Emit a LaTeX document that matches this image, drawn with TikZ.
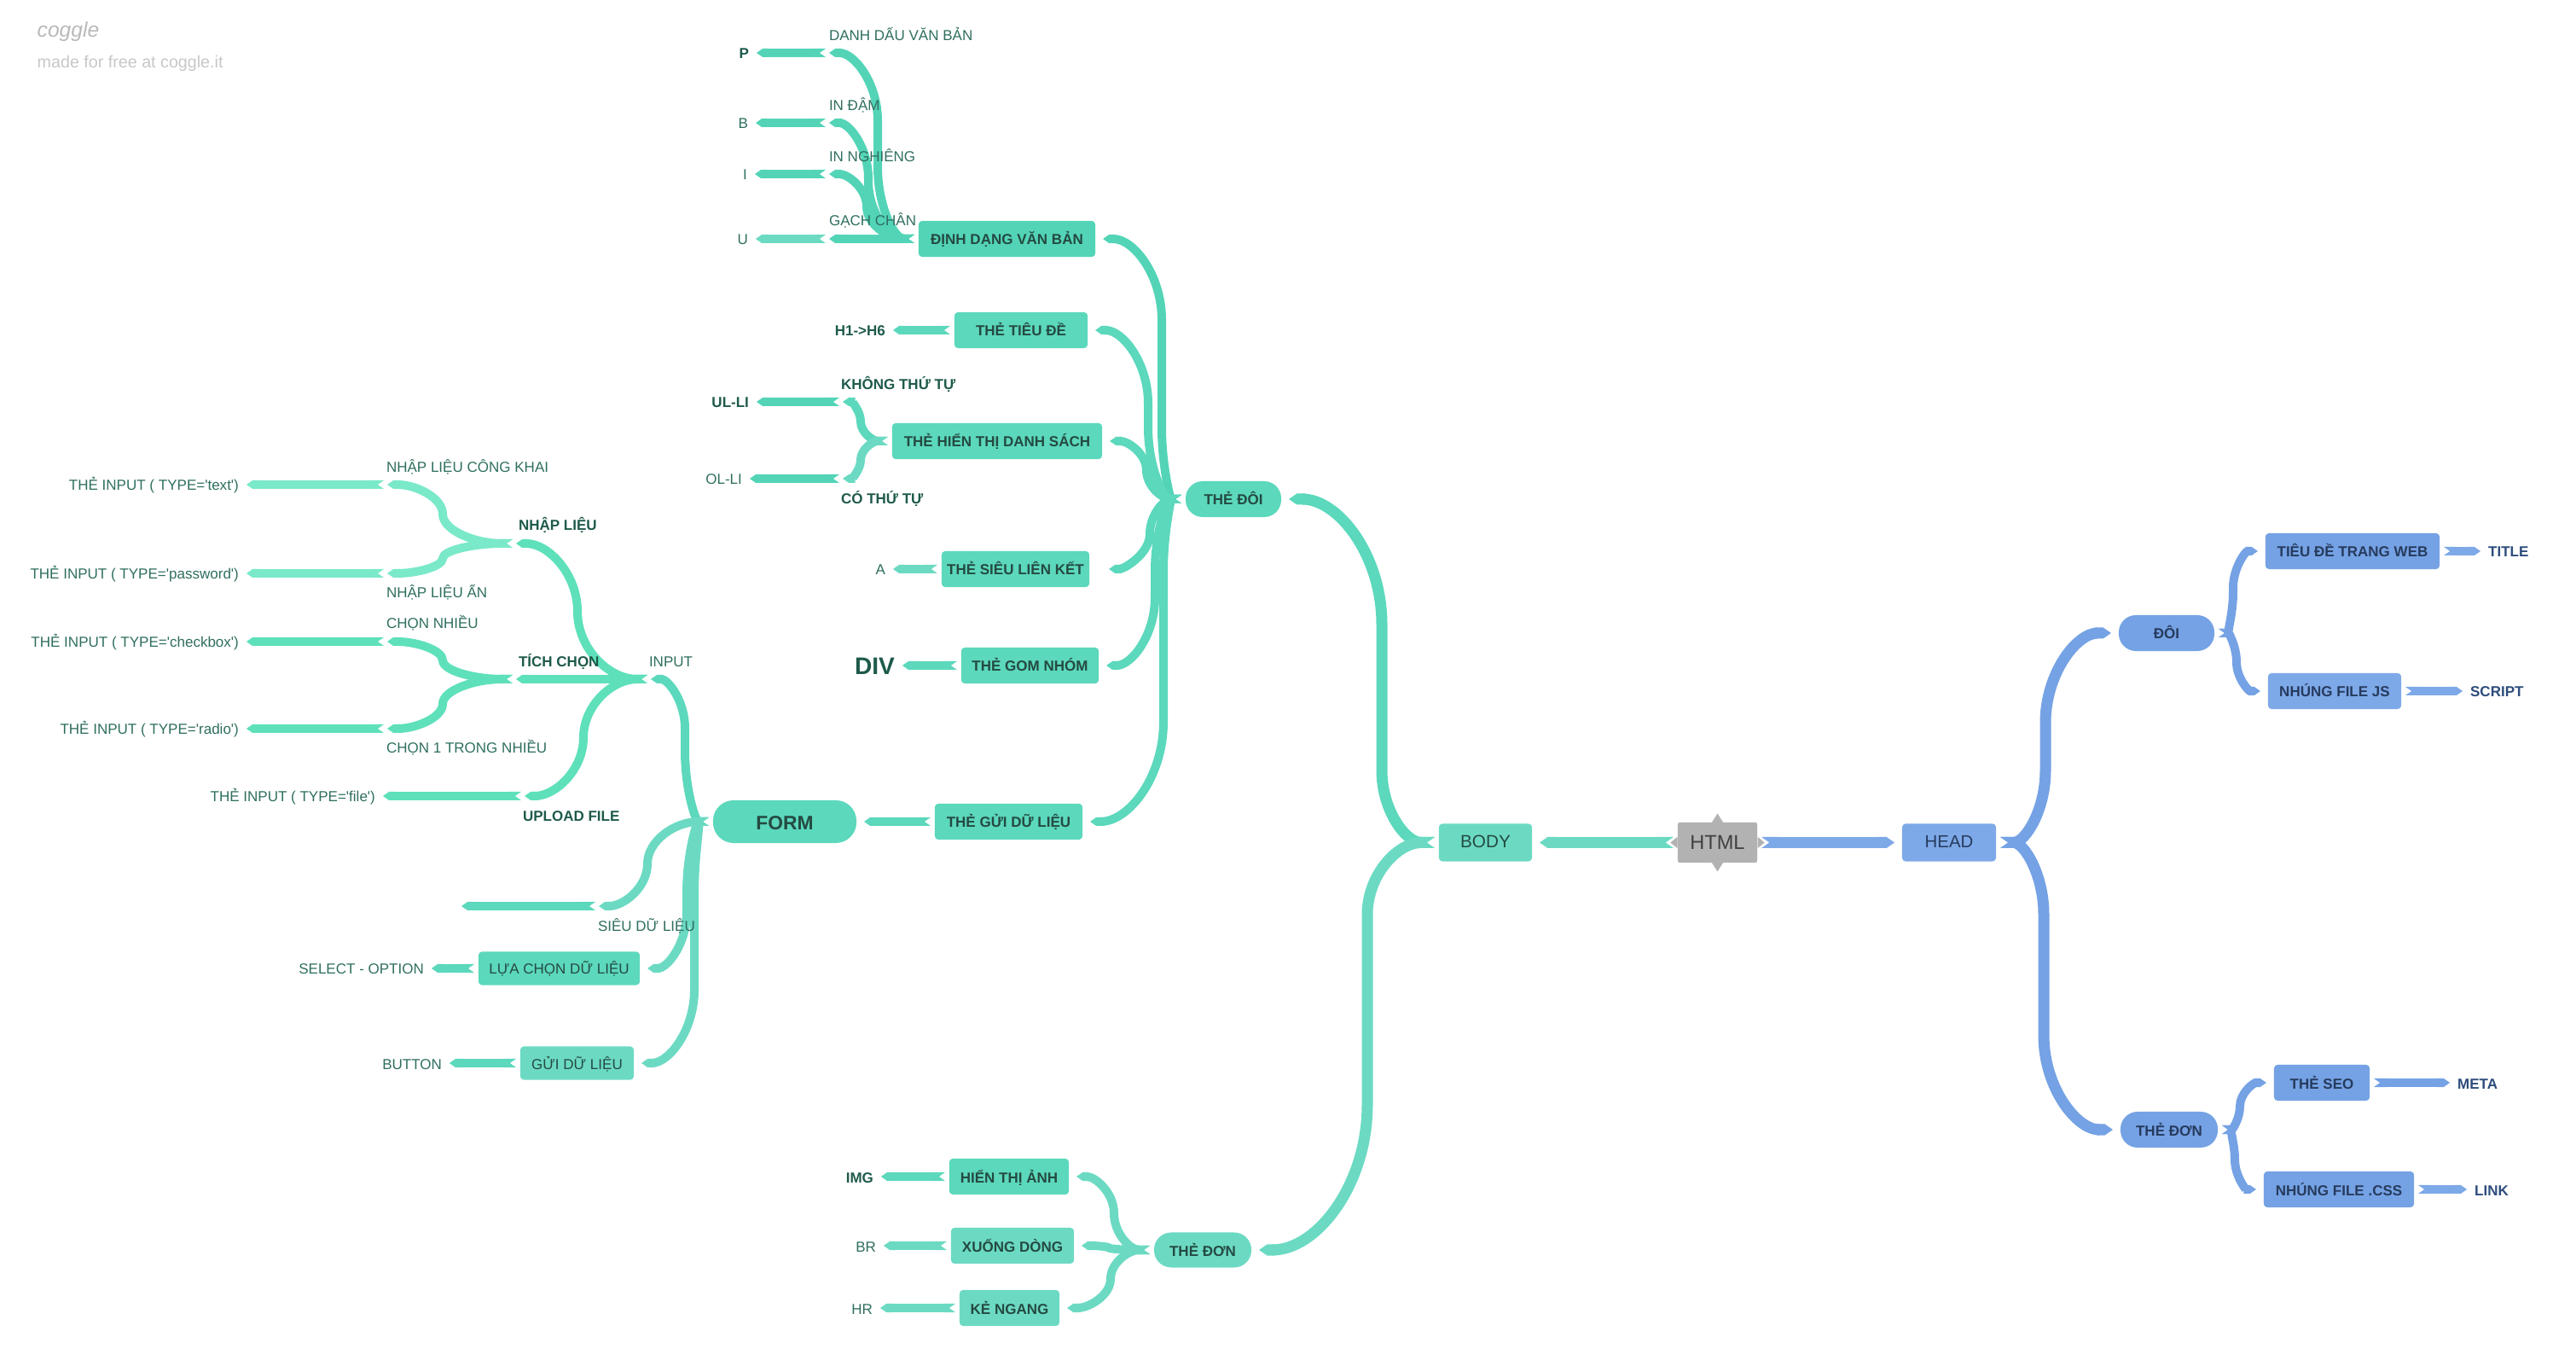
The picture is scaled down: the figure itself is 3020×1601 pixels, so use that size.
\documentclass[tikz,border=0pt]{standalone}
\usepackage{fontspec}
\setmainfont{Liberation Sans}[Ligatures=TeXOff]
\usetikzlibrary{arrows.meta, positioning, calc, backgrounds}
\newcommand{\smallfont}{\fontsize{4.84pt}{6pt}\selectfont}
\definecolor{bodyteal}{HTML}{5CD8BC}
\definecolor{paleteal}{HTML}{6CDAC3}
\definecolor{darkteal}{HTML}{53D4B7}
\definecolor{mintone}{HTML}{7AE9C9}
\definecolor{minttwo}{HTML}{5EE0BB}
\definecolor{headblue}{HTML}{75A2E4}
\definecolor{paleblue}{HTML}{7EA9E8}
\definecolor{htmlgray}{HTML}{B2B2B2}
\definecolor{boxink}{HTML}{244A42}
\definecolor{leafink}{HTML}{2F6E5F}
\definecolor{boldink}{HTML}{1E5A4B}
\definecolor{blueink}{HTML}{263B5E}
\definecolor{blueleaf}{HTML}{2D4C7C}

\begin{document}
\begin{tikzpicture}[
    x=0.01cm, y=-0.01cm,
    tag/.style={rounded corners=0.04cm, inner sep=0pt, outer sep=0.05cm, minimum height=0.42cm, fill=bodyteal, font=\smallfont\bfseries, text=boxink, text height=0.14cm, text depth=0pt},
    plain/.style={tag, font=\smallfont},
    pill/.style={tag, rounded corners=0.2cm},
    bluetag/.style={tag, fill=headblue, text=blueink},
    bluepill/.style={pill, fill=headblue, text=blueink},
    leaf/.style={inner sep=0pt, outer sep=0.05cm, font=\smallfont, text=leafink, text height=0.14cm, text depth=0pt},
    boldleaf/.style={leaf, font=\smallfont\bfseries, text=boldink},
    blueleaf/.style={boldleaf, text=blueleaf},
    note/.style={leaf, outer sep=0pt, anchor=west},
    boldnote/.style={boldleaf, outer sep=0pt, anchor=west},
    link/.style={line width=0.1cm, arrows={Triangle Cap[reversed, cap angle=70]}-{Triangle Cap[cap angle=70]}, shorten >=0.04cm},
    biglink/.style={link, line width=0.13cm},
    branch/.style={to path={
        let \p1=(\tikztostart), \p2=(\tikztotarget), \p3=(#1,0),
            \n1={min(24,abs(\y2-\y1)/2)*(\y2>\y1?1:-1)},
            \n2={min(1.3*abs(\x3-\x2),abs(\y2-\y1)/2)*(\y2>\y1?1:-1)}
        in .. controls ({\x1+0.55*(\x3-\x1)},\y1) and (\x3,{\y1+0.45*\n1}) .. (\x3,{\y1+\n1})
        -- (\x3,{\y2-\n2}) .. controls (\x3,{\y2-0.45*\n2}) and ({\x2+0.55*(\x3-\x2)},\y2) .. (\tikztotarget)}}
]
    \useasboundingbox (0,0) rectangle (3020,1601);

    % centre
    \node[tag, minimum width=0.93cm, minimum height=0.47cm, fill=htmlgray, rounded corners=0.02cm, font=\fontsize{6.7pt}{8pt}\selectfont, text=black!75, text height=0.15cm] (html) at (2013.5,987.5) {HTML};
    \node[tag, minimum width=1.09cm, minimum height=0.44cm, fill=paleteal, font=\fontsize{5.9pt}{7pt}\selectfont, text height=0.13cm] (body) at (1741.5,987.5) {BODY};
    \node[bluetag, minimum width=1.10cm, minimum height=0.44cm, fill=paleblue, font=\fontsize{5.8pt}{7pt}\selectfont, text height=0.13cm] (head) at (2285,987.5) {HEAD};

    % head side
    \node[bluepill, minimum width=1.12cm] (doi) at (2540,742) {ĐÔI};
    \node[bluepill, minimum width=1.14cm] (dontag) at (2543,1324) {THẺ ĐƠN};
    \node[bluetag, minimum width=2.04cm] (webtitle) at (2758,646) {TIÊU ĐỀ TRANG WEB};
    \node[bluetag, minimum width=1.56cm, fill=paleblue] (jsfile) at (2737,810) {NHÚNG FILE JS};
    \node[bluetag, minimum width=1.12cm] (seo) at (2722,1269) {THẺ SEO};
    \node[bluetag, minimum width=1.76cm] (cssfile) at (2742,1394) {NHÚNG FILE .CSS};
    \node[blueleaf, right=0.47cm of webtitle] (title) {TITLE};
    \node[blueleaf, right=0.71cm of jsfile] (script) {SCRIPT};
    \node[blueleaf, right=0.93cm of seo] (meta) {META};
    \node[blueleaf, right=0.61cm of cssfile] (linktag) {LINK};

    % body side, paired tags
    \node[pill, minimum width=1.12cm] (thedoi) at (1446,585) {THẺ ĐÔI};
    \node[tag, minimum width=2.07cm, fill=darkteal] (dinhdang) at (1180.5,280) {ĐỊNH DẠNG VĂN BẢN};
    \node[tag, minimum width=1.56cm] (tieude) at (1197,387) {THẺ TIÊU ĐỀ};
    \node[tag, minimum width=2.46cm] (danhsach) at (1169,517) {THẺ HIỂN THỊ DANH SÁCH};
    \node[tag, minimum width=1.73cm] (sieulk) at (1190.5,667) {THẺ SIÊU LIÊN KẾT};
    \node[tag, minimum width=1.61cm] (gomnhom) at (1207.5,780) {THẺ GOM NHÓM};
    \node[tag, minimum width=1.73cm] (guidl) at (1182.5,963) {THẺ GỬI DỮ LIỆU};
    \node[boldleaf, left=0.71cm of tieude] (hsix) {H1->H6};
    \node[leaf, left=0.56cm of sieulk] (atag) {A};
    \node[boldleaf, left=0.68cm of gomnhom, font=\fontsize{8pt}{9pt}\selectfont\bfseries, text height=0.22cm] (divtag) {DIV};

    % text marks
    \coordinate (pjoin) at (968,62);
    \coordinate (bjoin) at (968,144);
    \coordinate (ijoin) at (968,204);
    \coordinate (ujoin) at (968,280);
    \node[boldleaf, left=0.85cm of pjoin] (ptag) {P};
    \node[leaf, left=0.86cm of bjoin] (btag) {B};
    \node[leaf, left=0.87cm of ijoin] (itag) {I};
    \node[leaf, left=0.86cm of ujoin] (utag) {U};
    \node[note] at (972,41) {DANH DẤU VĂN BẢN};
    \node[note] at (972,123) {IN ĐẬM};
    \node[note] at (972,183) {IN NGHIÊNG};
    \node[note] at (972,258) {GẠCH CHÂN};

    % lists
    \coordinate (uljoin) at (984,471);
    \coordinate (oljoin) at (984,561);
    \node[boldleaf, left=1.01cm of uljoin] (ultag) {UL-LI};
    \node[leaf, left=1.09cm of oljoin] (oltag) {OL-LI};
    \node[boldnote] at (986,450) {KHÔNG THỨ TỰ};
    \node[boldnote] at (986,584) {CÓ THỨ TỰ};

    % form
    \node[pill, minimum width=1.68cm, minimum height=0.50cm, rounded corners=0.24cm, font=\fontsize{6.5pt}{8pt}\selectfont\bfseries, text height=0.18cm] (form) at (920,963) {FORM};
    \node[plain, minimum width=1.89cm, minimum height=0.39cm] (luachon) at (655.5,1135) {LỰA CHỌN DỮ LIỆU};
    \node[plain, minimum width=1.33cm, minimum height=0.39cm, fill=paleteal] (guibtn) at (676.5,1246) {GỬI DỮ LIỆU};
    \node[leaf, left=0.54cm of luachon] (select) {SELECT - OPTION};
    \node[leaf, left=0.82cm of guibtn] (button) {BUTTON};
    \coordinate (sieuend) at (537,1062);
    \coordinate (sieujoin) at (698,1062);
    \node[note] at (701,1084) {SIÊU DỮ LIỆU};

    % inputs
    \coordinate (inputhub) at (759,796);
    \coordinate (nhaphub) at (601,637);
    \coordinate (tichhub) at (601,796);
    \coordinate (filejoin) at (611,933);
    \coordinate (textjoin) at (450,568);
    \coordinate (passjoin) at (450,672);
    \coordinate (checkjoin) at (450,752);
    \coordinate (radiojoin) at (450,854);
    \node[leaf, left=1.65cm of textjoin] (textinput) {THẺ INPUT ( TYPE='text')};
    \node[leaf, left=1.65cm of passjoin] (passinput) {THẺ INPUT ( TYPE='password')};
    \node[leaf, left=1.65cm of checkjoin] (checkinput) {THẺ INPUT ( TYPE='checkbox')};
    \node[leaf, left=1.65cm of radiojoin] (radioinput) {THẺ INPUT ( TYPE='radio')};
    \node[leaf, left=1.66cm of filejoin] (fileinput) {THẺ INPUT ( TYPE='file')};
    \node[note] at (453,547) {NHẬP LIỆU CÔNG KHAI};
    \node[note] at (453,694) {NHẬP LIỆU ẨN};
    \node[note] at (453,730) {CHỌN NHIỀU};
    \node[note] at (453,876) {CHỌN 1 TRONG NHIỀU};
    \node[boldnote] at (608,615) {NHẬP LIỆU};
    \node[boldnote] at (608,775) {TÍCH CHỌN};
    \node[note] at (761,775) {INPUT};
    \node[boldnote] at (613,956) {UPLOAD FILE};

    % single tags
    \node[pill, minimum width=1.14cm, minimum height=0.41cm, fill=paleteal] (thedon) at (1410,1465) {THẺ ĐƠN};
    \node[tag, minimum width=1.40cm] (hienthi) at (1183,1379) {HIỂN THỊ ẢNH};
    \node[tag, minimum width=1.44cm, fill=paleteal] (xuong) at (1187,1460) {XUỐNG DÒNG};
    \node[tag, minimum width=1.17cm, fill=paleteal] (kengang) at (1183.5,1533) {KẺ NGANG};
    \node[boldleaf, left=0.79cm of hienthi] (imgtag) {IMG};
    \node[leaf, left=0.78cm of xuong] (brtag) {BR};
    \node[leaf, left=0.92cm of kengang] (hrtag) {HR};

    % logo
    \node[text=gray!55, font=\fontsize{7pt}{8pt}\selectfont\itshape, inner sep=0pt, anchor=west] (logo) at (43,37) {coggle};
    \node[text=black!22, font=\fontsize{5.6pt}{7pt}\selectfont, inner sep=0pt, anchor=west] (freenote) at (43,74) {made for free at coggle.it};

    \begin{scope}[on background layer]
        % spikes of the centre
        \fill[htmlgray] ($(html)+(-7,-23)$) -- ($(html)+(0,-34)$) -- ($(html)+(7,-23)$) -- cycle;
        \fill[htmlgray] ($(html)+(-7,23)$) -- ($(html)+(0,34)$) -- ($(html)+(7,23)$) -- cycle;

        \draw[biglink, paleteal] (html.west) -- (body.east);
        \draw[biglink, paleblue] (html.east) -- (head.west);
        \draw[fill=htmlgray, draw=white, line width=0.02cm] ($(html)+(-46,-9)$) -- ($(html)+(-57,0)$) -- ($(html)+(-46,9)$) -- cycle;
        \draw[fill=htmlgray, draw=white, line width=0.02cm] ($(html)+(46,-9)$) -- ($(html)+(57,0)$) -- ($(html)+(46,9)$) -- cycle;

        \draw[biglink, headblue] (head.east) to[branch=2398] (doi.west);
        \draw[biglink, headblue] (head.east) to[branch=2396] (dontag.west);
        \draw[link, headblue] (doi.east) to[branch=2618] (webtitle.west);
        \draw[link, headblue] (doi.east) to[branch=2622] (jsfile.west);
        \draw[link, headblue] (dontag.east) to[branch=2626] (seo.west);
        \draw[link, headblue] (dontag.east) to[branch=2620] (cssfile.west);
        \draw[link, paleblue] (webtitle.east) -- (title.west);
        \draw[link, paleblue] (jsfile.east) -- (script.west);
        \draw[link, headblue] (seo.east) -- (meta.west);
        \draw[link, paleblue] (cssfile.east) -- (linktag.west);

        \draw[biglink, bodyteal] (body.west) to[branch=1620] (thedoi.east);
        \draw[biglink, paleteal] (body.west) to[branch=1603] (thedon.east);

        \draw[link, darkteal] (thedoi.west) to[branch=1362] (dinhdang.east);
        \draw[link, bodyteal] (thedoi.west) to[branch=1346] (tieude.east);
        \draw[link, bodyteal] (thedoi.west) to[branch=1344] (danhsach.east);
        \draw[link, bodyteal, shorten >=0.18cm] (thedoi.west) to[branch=1348] (sieulk.east);
        \draw[link, bodyteal] (thedoi.west) to[branch=1354] (gomnhom.east);
        \draw[link, bodyteal] (thedoi.west) to[branch=1364] (guidl.east);

        \draw[link, darkteal] (dinhdang.west) to[branch=1029] (pjoin);
        \draw[link, darkteal] (dinhdang.west) to[branch=1018] (bjoin);
        \draw[link, darkteal] (dinhdang.west) to[branch=1016] (ijoin);
        \draw[link, darkteal] (dinhdang.west) -- (ujoin);
        \draw[link, darkteal] (pjoin) -- (ptag.east);
        \draw[link, darkteal] (bjoin) -- (btag.east);
        \draw[link, darkteal] (ijoin) -- (itag.east);
        \draw[link, paleteal] (ujoin) -- (utag.east);

        \draw[link, bodyteal] (tieude.west) -- (hsix.east);
        \draw[link, bodyteal] (danhsach.west) to[branch=1009] (uljoin);
        \draw[link, paleteal] (danhsach.west) to[branch=1009] (oljoin);
        \draw[link, darkteal] (uljoin) -- (ultag.east);
        \draw[link, darkteal] (oljoin) -- (oltag.east);
        \draw[link, paleteal] (sieulk.west) -- (atag.east);
        \draw[link, bodyteal] (gomnhom.west) -- (divtag.east);
        \draw[link, bodyteal] (guidl.west) -- (form.east);

        \draw[link, bodyteal] (form.west) to[branch=803] (inputhub);
        \draw[link, paleteal] (form.west) to[branch=759] (sieujoin);
        \draw[link, paleteal] (form.west) to[branch=805] (luachon.east);
        \draw[link, paleteal] (form.west) to[branch=814] (guibtn.east);
        \draw[link, bodyteal] (sieujoin) -- (sieuend);
        \draw[link, bodyteal] (luachon.west) -- (select.east);
        \draw[link, bodyteal] (guibtn.west) -- (button.east);

        \draw[link, minttwo] (inputhub) to[branch=677] (nhaphub);
        \draw[link, minttwo] (inputhub) -- (tichhub);
        \draw[link, minttwo] (inputhub) to[branch=684] (filejoin);
        \draw[link, mintone] (nhaphub) to[branch=519] (textjoin);
        \draw[link, mintone] (nhaphub) to[branch=519] (passjoin);
        \draw[link, minttwo] (tichhub) to[branch=519] (checkjoin);
        \draw[link, minttwo] (tichhub) to[branch=519] (radiojoin);
        \draw[link, mintone] (textjoin) -- (textinput.east);
        \draw[link, mintone] (passjoin) -- (passinput.east);
        \draw[link, minttwo] (checkjoin) -- (checkinput.east);
        \draw[link, minttwo] (radiojoin) -- (radioinput.east);
        \draw[link, minttwo] (filejoin) -- (fileinput.east);

        \draw[link, paleteal] (thedon.west) to[branch=1306] (hienthi.east);
        \draw[link, paleteal] (thedon.west) to[branch=1300] (xuong.east);
        \draw[link, paleteal] (thedon.west) to[branch=1302] (kengang.east);
        \draw[link, bodyteal] (hienthi.west) -- (imgtag.east);
        \draw[link, paleteal] (xuong.west) -- (brtag.east);
        \draw[link, paleteal] (kengang.west) -- (hrtag.east);
    \end{scope}
\end{tikzpicture}
\end{document}
